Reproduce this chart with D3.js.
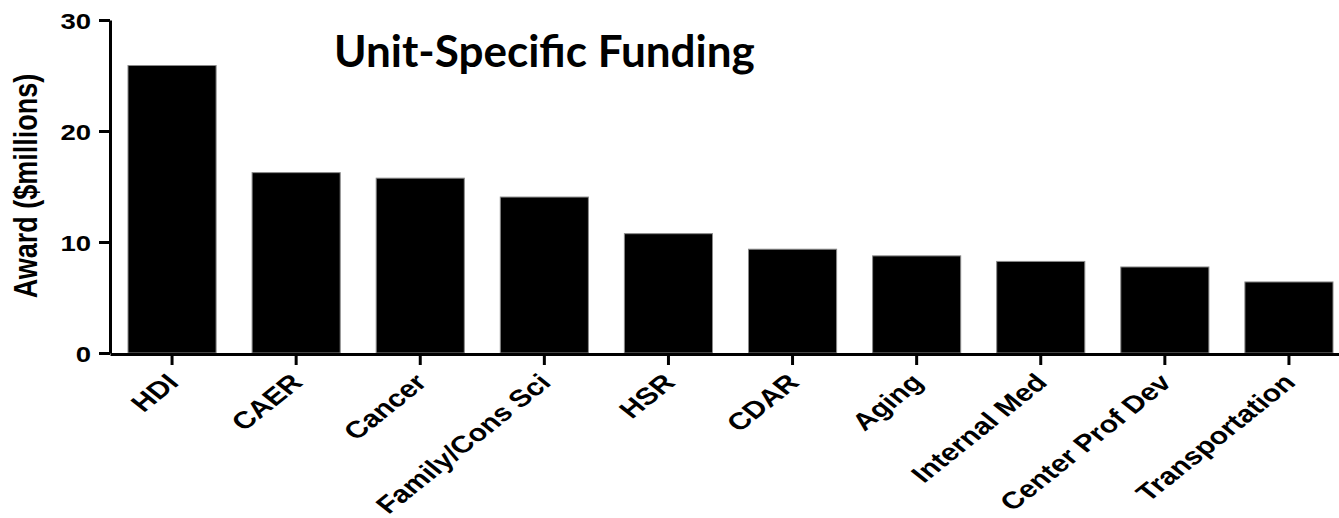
<!DOCTYPE html>
<html>
<head>
<meta charset="utf-8">
<script src="https://cdn.jsdelivr.net/npm/d3@7"></script>
<style>
  body { margin: 0; background: #fff; }
  svg { display: block; }
  .axis text { font-family: "Liberation Sans", Arial, sans-serif; font-weight: bold; fill: #000; }
  .axis path, .axis line { stroke: #000; stroke-width: 3; }
</style>
</head>
<body>
<svg width="1339" height="518"></svg>
<script>
// values
var units = ["HDI", "CAER", "Cancer", "Family/Cons Sci", "HSR", "CDAR", "Aging", "Internal Med", "Center Prof Dev", "Transportation"];
var awards = [25.9, 16.25, 15.75, 14.05, 10.75, 9.35, 8.75, 8.25, 7.75, 6.4];
var yTicks = [0, 10, 20, 30];

var svg = d3.select("svg"),
    width = +svg.attr("width"),
    height = +svg.attr("height");

// the original figure was stretched sideways, so text is too
var stretch = 1.25;

var x = d3.scaleBand()
    .domain(units)
    .range([110, 1351])
    .paddingInner(0.29)
    .paddingOuter(0.145);

var y = d3.scaleLinear()
    .domain([0, 30])
    .range([353, 20]);

var data = units.map(function (u, i) {
    return {unit: u, award: awards[i]};
});

svg.append("g")
    .attr("class", "bars")
    .selectAll("rect")
    .data(data)
    .enter().append("rect")
    .attr("x", function (d) { return x(d.unit); })
    .attr("y", function (d) { return y(d.award); })
    .attr("width", x.bandwidth())
    .attr("height", function (d) { return y(0) - y(d.award); })
    .attr("fill", "#000")
    .attr("stroke", "#8a8a8a")
    .attr("stroke-width", 1);

// y axis
var yAxis = svg.append("g")
    .attr("class", "axis")
    .attr("transform", "translate(110,0)")
    .call(d3.axisLeft(y).tickValues(yTicks).tickSize(11).tickSizeOuter(0));

yAxis.selectAll("text")
    .attr("x", null)
    .attr("dy", null)
    .attr("text-anchor", "end")
    .style("font-size", "22px")
    .attr("transform", "translate(-19,8) scale(" + stretch + ",1)");

// x axis
var xAxis = svg.append("g")
    .attr("class", "axis")
    .attr("transform", "translate(0,354)")
    .call(d3.axisBottom(x).tickSize(11).tickSizeOuter(0));

xAxis.selectAll("text")
    .attr("y", null)
    .attr("dy", null)
    .attr("text-anchor", "end")
    .style("font-size", "24px")
    .attr("transform", "translate(8,30) scale(" + stretch + ",1) rotate(-45)");

// y label
svg.append("text")
    .attr("transform", "translate(37,186) scale(" + stretch + ",1) rotate(-90)")
    .attr("text-anchor", "middle")
    .style("font-family", "'Liberation Sans', Arial, sans-serif")
    .style("font-weight", "bold")
    .style("font-size", "27px")
    .text("Award ($millions)");

// title
svg.append("text")
    .attr("x", 334)
    .attr("y", 67)
    .style("font-family", "Lato, 'Open Sans', sans-serif")
    .style("font-weight", "bold")
    .style("font-size", "44px")
    .text("Unit-Specific Funding");
</script>
</body>
</html>
